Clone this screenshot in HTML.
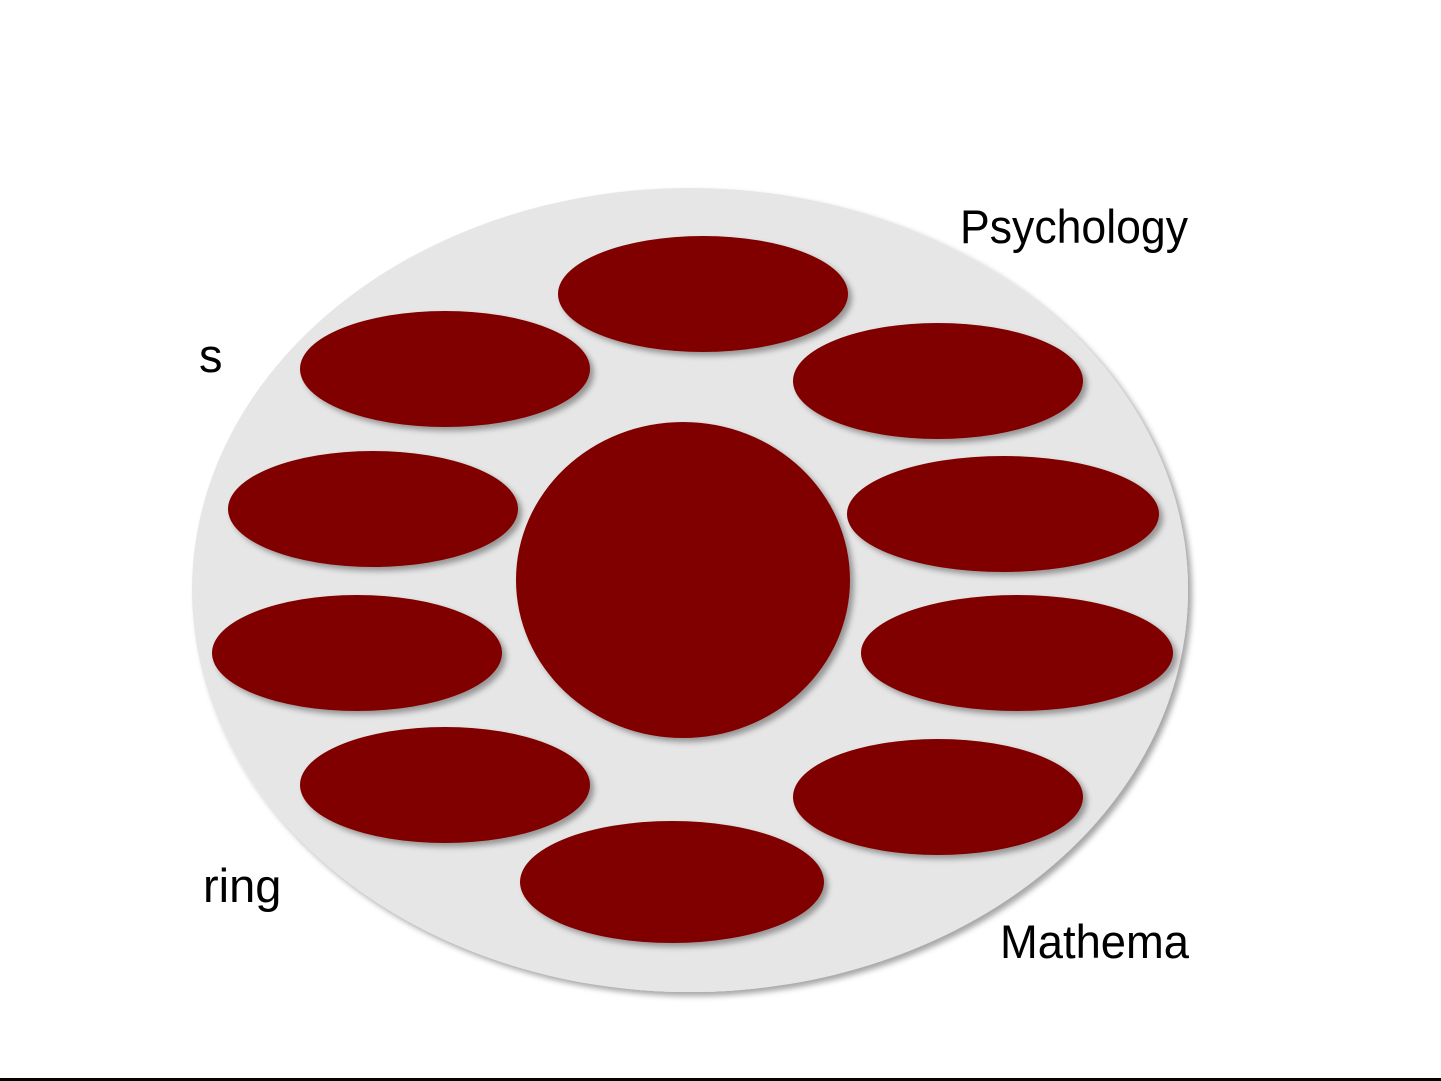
<!DOCTYPE html>
<html><head><meta charset="utf-8"><style>
html,body{margin:0;padding:0;background:#fff;}
svg{display:block;}
text{font-family:"Liberation Sans","DejaVu Sans",sans-serif;font-size:47px;fill:#000;}
</style></head><body>
<svg width="1441" height="1081" viewBox="0 0 1441 1081" xmlns="http://www.w3.org/2000/svg">
<defs>
<filter id="sh" x="-10%" y="-10%" width="130%" height="130%">
<feDropShadow dx="4" dy="4" stdDeviation="3" flood-color="#000" flood-opacity="0.35"/>
</filter>
</defs>
<ellipse cx="690" cy="590" rx="498" ry="402" fill="#e6e6e6" filter="url(#sh)"/>
<g fill="#800000" filter="url(#sh)">
<ellipse cx="703" cy="294" rx="145" ry="58"/>
<ellipse cx="445" cy="369" rx="145" ry="58"/>
<ellipse cx="938" cy="381" rx="145" ry="58"/>
<ellipse cx="373" cy="509" rx="145" ry="58"/>
<ellipse cx="1003" cy="514" rx="156" ry="58"/>
<ellipse cx="357" cy="653" rx="145" ry="58"/>
<ellipse cx="1017" cy="653" rx="156" ry="58"/>
<ellipse cx="445" cy="785" rx="145" ry="58"/>
<ellipse cx="938" cy="797" rx="145" ry="58"/>
<ellipse cx="672" cy="882" rx="152" ry="61"/>
<ellipse cx="683" cy="580" rx="167" ry="158"/>
</g>
<text x="960" y="243" textLength="228" lengthAdjust="spacingAndGlyphs">Psychology</text>
<text x="199" y="372">s</text>
<text x="203" y="902">ring</text>
<text x="1000" y="958" textLength="189" lengthAdjust="spacingAndGlyphs">Mathema</text>
<rect x="0" y="1078" width="1441" height="3" fill="#000"/>
</svg>
</body></html>
